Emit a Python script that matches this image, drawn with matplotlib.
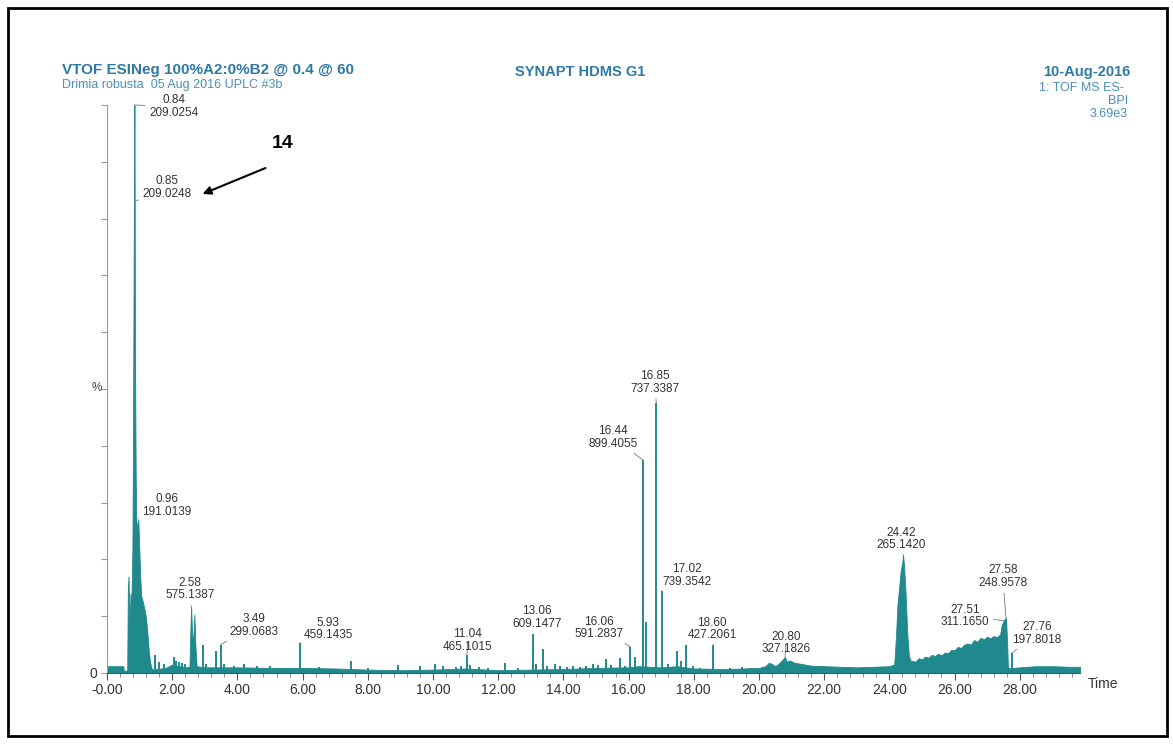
import matplotlib
matplotlib.use("Agg")
import matplotlib.pyplot as plt
from matplotlib.patches import Rectangle

plt.rcParams['font.family'] = ['Liberation Sans', 'DejaVu Sans']

# broad part of the trace (time in min, intensity in %)
trace_time = [0.00, 0.50, 0.52, 0.62, 0.64, 0.66, 0.68, 0.70, 0.72, 0.74, 0.76, 0.78,
              0.80, 0.82, 0.84, 0.85, 0.86, 0.88, 0.90, 0.93, 0.96, 0.99, 1.02, 1.05,
              1.08, 1.12, 1.16, 1.20, 1.24, 1.28, 1.32, 1.36, 1.40, 1.80, 2.00, 2.20,
              2.50, 2.53, 2.56, 2.58, 2.61, 2.64, 2.68, 2.71, 2.75, 3.00, 4.00, 5.00,
              6.00, 7.00, 8.00, 9.00, 10.00, 11.00, 12.00, 13.00, 14.00, 15.00, 16.00,
              16.30, 17.00, 17.50, 18.00, 19.00, 20.00, 20.20, 20.30, 20.40, 20.50,
              20.60, 20.70, 20.80, 20.85, 20.95, 21.10, 21.30, 21.60, 22.00, 22.50,
              23.00, 23.50, 24.00, 24.15, 24.20, 24.25, 24.30, 24.35, 24.40, 24.42,
              24.45, 24.50, 24.55, 24.60, 24.65, 24.80, 24.90, 25.00, 25.10, 25.20,
              25.30, 25.40, 25.50, 25.60, 25.70, 25.80, 25.90, 26.00, 26.10, 26.20,
              26.30, 26.40, 26.50, 26.60, 26.70, 26.80, 26.90, 27.00, 27.10, 27.20,
              27.30, 27.40, 27.45, 27.51, 27.55, 27.58, 27.61, 27.64, 27.70, 27.80,
              28.00, 28.50, 29.00, 29.50, 29.85]
trace_pct = [1.2, 1.2, 0.3, 0.5, 15.0, 17.0, 12.0, 9.0, 14.0, 10.0, 16.0, 22.0,
             45.0, 75.0, 100.0, 83.0, 55.0, 35.0, 27.0, 25.0, 27.0, 22.0, 17.0, 13.5,
             13.0, 12.0, 11.0, 9.5, 7.0, 4.0, 2.0, 1.0, 0.6, 0.9, 1.5, 1.2,
             1.0, 1.2, 8.0, 11.7, 7.0, 5.0, 10.3, 5.0, 1.2, 1.0, 1.0, 0.9,
             0.9, 0.8, 0.6, 0.5, 0.6, 0.8, 0.5, 0.6, 0.7, 0.9, 1.0,
             1.2, 1.0, 1.2, 0.8, 0.7, 0.9, 1.2, 1.8, 1.6, 1.2,
             1.6, 2.2, 2.8, 2.0, 2.2, 1.8, 1.6, 1.3, 1.2, 1.1,
             1.0, 1.1, 1.2, 1.5, 6.0, 12.0, 15.0, 18.0, 19.5, 20.8,
             19.0, 14.0, 7.0, 3.0, 2.2, 2.0, 2.6, 2.4, 2.9, 2.7,
             3.2, 3.0, 3.4, 3.1, 3.6, 3.5, 4.1, 4.0, 4.6, 4.4,
             5.0, 5.2, 5.0, 5.8, 5.5, 6.2, 5.9, 6.4, 6.1, 6.5,
             6.3, 6.8, 8.5, 9.2, 9.6, 9.7, 6.0, 1.0, 0.8, 0.9,
             1.0, 1.2, 1.2, 1.1, 1.1]

# narrow spikes (time in min, intensity in %)
spike_time = [1.47, 1.58, 1.75, 2.05, 2.12, 2.20, 2.30, 2.40, 2.95, 3.05, 3.35, 3.49,
              3.60, 3.90, 4.20, 4.60, 5.00, 5.93, 6.50, 7.48, 8.00, 8.93, 9.60, 10.07,
              10.30, 10.70, 10.85, 11.04, 11.15, 11.40, 11.70, 12.20, 12.60, 13.06,
              13.15, 13.37, 13.50, 13.74, 13.90, 14.10, 14.30, 14.50, 14.70, 14.90,
              15.05, 15.30, 15.45, 15.74, 15.90, 16.06, 16.20, 16.44, 16.55, 16.85,
              17.02, 17.20, 17.50, 17.60, 17.76, 17.98, 18.20, 18.60, 19.10, 19.48,
              19.80, 27.76]
spike_pct = [3.2, 2.0, 1.5, 2.8, 2.2, 2.0, 1.8, 1.5, 5.0, 1.5, 3.8, 5.0,
             1.5, 1.2, 1.5, 1.3, 1.2, 5.3, 1.0, 2.2, 0.8, 1.4, 1.2, 1.6,
             1.2, 1.0, 1.3, 3.2, 1.4, 1.1, 0.9, 1.8, 0.8, 6.8,
             1.6, 4.3, 1.2, 1.6, 1.3, 1.0, 1.2, 1.0, 1.3, 1.6,
             1.4, 2.4, 1.4, 2.7, 1.2, 4.6, 2.8, 37.5, 9.0, 47.5,
             14.5, 1.5, 3.8, 2.2, 5.0, 1.2, 0.9, 5.0, 0.8, 1.1,
             0.9, 3.5]

# labelled peaks: retention time, m/z, apex height (%)
label_rt = ["0.84", "0.85", "0.96", "2.58", "3.49", "5.93", "11.04", "13.06", "16.06",
            "16.44", "16.85", "17.02", "18.60", "20.80", "24.42", "27.51", "27.58", "27.76"]
label_mz = ["209.0254", "209.0248", "191.0139", "575.1387", "299.0683", "459.1435",
            "465.1015", "609.1477", "591.2837", "899.4055", "737.3387", "739.3542",
            "427.2061", "327.1826", "265.1420", "311.1650", "248.9578", "197.8018"]
label_apex = [100.0, 83.0, 27.0, 11.7, 5.0, 5.3, 3.2, 6.8, 4.6, 37.5, 47.5, 14.5,
              5.0, 2.8, 20.8, 9.2, 9.7, 3.5]
# where the label text sits (time, %)
label_pos = [(2.05, 97.6), (1.84, 83.3), (1.84, 27.3), (2.55, 12.6), (4.5, 6.2),
             (6.78, 5.6), (11.07, 3.6), (13.19, 7.6), (15.09, 5.8), (15.52, 39.3),
             (16.81, 49.0), (17.8, 15.0), (18.56, 5.6), (20.83, 3.1), (24.36, 21.4),
             (26.32, 7.9), (27.48, 14.8), (28.53, 4.8)]

teal = "#20898d"
W, H = 1173, 744

fig = plt.figure(figsize=(W / 100, H / 100), dpi=100)
ax = fig.add_axes([107 / W, (H - 673) / H, (1080 - 107) / W, (673 - 105) / H])

ax.fill_between(trace_time, 0, trace_pct, color=teal, lw=0.6, edgecolor=teal)
ax.vlines(spike_time, 0, spike_pct, color=teal, lw=1.4)

for rt, mz, apex, (tx, ty) in zip(label_rt, label_mz, label_apex, label_pos):
    ax.annotate(rt + "\n" + mz, xy=(float(rt), apex), xytext=(tx, ty),
                ha="center", va="bottom", fontsize=8.5, color="#333333",
                linespacing=1.05, annotation_clip=False,
                arrowprops=dict(arrowstyle="-", color="#777777", lw=0.6,
                                shrinkA=1, shrinkB=0))

ax.set_xlim(0, 29.85)
ax.set_ylim(0, 100)
for s in ["top", "right"]:
    ax.spines[s].set_visible(False)
ax.spines["left"].set_color("#999999")
ax.spines["left"].set_linewidth(0.8)
ax.spines["bottom"].set_color("#555555")
ax.spines["bottom"].set_linewidth(0.8)

xt = list(range(0, 30, 2))
ax.set_xticks(xt)
ax.set_xticklabels(["-0.00"] + ["%.2f" % v for v in xt[1:]], fontsize=10, color="#333333")
ax.set_xticks([v * 0.4 for v in range(0, 75)], minor=True)
ax.tick_params(axis="x", which="major", length=5, color="#555555", pad=2)
ax.tick_params(axis="x", which="minor", length=3, color="#777777")
ax.set_yticks(range(0, 101, 10))
ax.set_yticklabels(["0"] + [""] * 10, fontsize=10, color="#333333")
ax.tick_params(axis="y", length=4, color="#999999", pad=3)

fig.text(97 / W, 1 - 388 / H, "%", ha="center", va="center",
         fontsize=8.5, color="#444444")
fig.text(1088 / W, 1 - 684 / H, "Time", fontsize=10, color="#333333", va="center")

# header
blue = "#2e79a6"
fig.text(62 / W, 1 - 70 / H, "VTOF ESINeg 100%A2:0%B2 @ 0.4 @ 60", fontsize=11,
         fontweight="bold", color=blue, va="center")
fig.text(62 / W, 1 - 85 / H, "Drimia robusta  05 Aug 2016 UPLC #3b", fontsize=9,
         color="#4a8fb8", va="center")
fig.text(580 / W, 1 - 72 / H, "SYNAPT HDMS G1", fontsize=10.5, fontweight="bold",
         color=blue, ha="center", va="center")
fig.text(1130 / W, 1 - 72 / H, "10-Aug-2016", fontsize=10.5, fontweight="bold",
         color=blue, ha="right", va="center")
fig.text(1124 / W, 1 - 88 / H, "1: TOF MS ES-", fontsize=9, color="#4a8fb8",
         ha="right", va="center")
fig.text(1128 / W, 1 - 101 / H, "BPI", fontsize=9, color="#4a8fb8",
         ha="right", va="center")
fig.text(1128 / W, 1 - 114 / H, "3.69e3", fontsize=9, color="#4a8fb8",
         ha="right", va="center")

# compound marker
fig.text(283 / W, 1 - 143 / H, "14", fontsize=14, fontweight="bold", color="black",
         ha="center", va="center")
ax.annotate("", xy=(200 / W, 1 - 195 / H), xytext=(268 / W, 1 - 167 / H),
            xycoords="figure fraction", textcoords="figure fraction",
            arrowprops=dict(arrowstyle="-|>", color="black", lw=1.5, mutation_scale=12))

# frame of the scanned page
fig.patches.append(Rectangle((8 / W, 8 / H), (1167 - 8) / W, (736 - 8) / H,
                             transform=fig.transFigure, fill=False, lw=2,
                             ec="black"))

fig.savefig("out.png", dpi=100)
